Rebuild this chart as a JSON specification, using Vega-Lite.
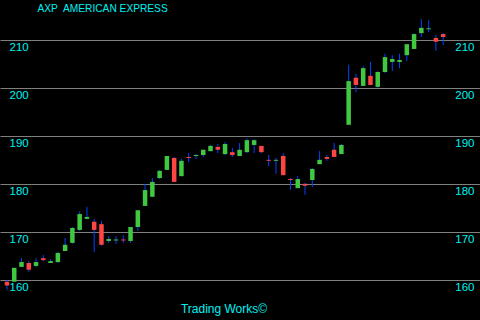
{
  "$schema": "https://vega.github.io/schema/vega-lite/v6.json",
  "width": 480,
  "height": 320,
  "autosize": {"type": "none"},
  "padding": 0,
  "background": "#000000",
  "config": {"view": {"stroke": null}, "font": "Liberation Sans"},
  "data": {
    "values": [
      {"i": 1, "o": 159.7, "h": 160.1, "l": 158.0, "c": 158.9},
      {"i": 2, "o": 159.7, "h": 162.6, "l": 159.7, "c": 162.6},
      {"i": 3, "o": 162.8, "h": 164.6, "l": 162.8, "c": 163.8},
      {"i": 4, "o": 163.6, "h": 164.0, "l": 161.8, "c": 162.2},
      {"i": 5, "o": 163.0, "h": 164.6, "l": 162.8, "c": 163.8},
      {"i": 6, "o": 164.6, "h": 165.3, "l": 164.0, "c": 164.2},
      {"i": 7, "o": 163.6, "h": 164.4, "l": 163.6, "c": 164.0},
      {"i": 8, "o": 163.8, "h": 165.9, "l": 163.6, "c": 165.7},
      {"i": 9, "o": 166.1, "h": 168.8, "l": 166.1, "c": 167.4},
      {"i": 10, "o": 167.8, "h": 171.1, "l": 167.6, "c": 170.9},
      {"i": 11, "o": 170.5, "h": 174.4, "l": 170.3, "c": 173.8},
      {"i": 12, "o": 172.8, "h": 175.3, "l": 172.8, "c": 173.2},
      {"i": 13, "o": 172.2, "h": 172.8, "l": 165.9, "c": 170.5},
      {"i": 14, "o": 171.7, "h": 172.4, "l": 167.2, "c": 167.4},
      {"i": 15, "o": 168.2, "h": 169.2, "l": 167.8, "c": 168.6},
      {"i": 16, "o": 168.3, "h": 169.2, "l": 167.6, "c": 168.5},
      {"i": 17, "o": 168.5, "h": 169.4, "l": 167.8, "c": 168.3},
      {"i": 18, "o": 168.2, "h": 171.1, "l": 167.8, "c": 171.1},
      {"i": 19, "o": 171.1, "h": 174.6, "l": 170.3, "c": 174.6},
      {"i": 20, "o": 175.5, "h": 180.1, "l": 175.5, "c": 178.8},
      {"i": 21, "o": 177.4, "h": 181.3, "l": 177.4, "c": 180.5},
      {"i": 22, "o": 181.3, "h": 183.0, "l": 181.1, "c": 182.8},
      {"i": 23, "o": 183.0, "h": 185.9, "l": 183.0, "c": 185.9},
      {"i": 24, "o": 185.5, "h": 185.7, "l": 180.5, "c": 180.5},
      {"i": 25, "o": 181.7, "h": 185.3, "l": 181.7, "c": 184.9},
      {"i": 26, "o": 185.7, "h": 186.5, "l": 184.6, "c": 185.5},
      {"i": 27, "o": 185.9, "h": 186.3, "l": 185.3, "c": 186.1},
      {"i": 28, "o": 186.1, "h": 187.2, "l": 185.7, "c": 187.2},
      {"i": 29, "o": 186.9, "h": 188.2, "l": 186.9, "c": 188.0},
      {"i": 30, "o": 187.8, "h": 188.4, "l": 186.5, "c": 187.2},
      {"i": 31, "o": 186.3, "h": 188.8, "l": 186.1, "c": 188.4},
      {"i": 32, "o": 186.7, "h": 187.6, "l": 185.7, "c": 186.1},
      {"i": 33, "o": 185.9, "h": 188.6, "l": 185.9, "c": 187.2},
      {"i": 34, "o": 186.7, "h": 189.6, "l": 186.5, "c": 189.2},
      {"i": 35, "o": 188.2, "h": 189.4, "l": 186.5, "c": 189.2},
      {"i": 36, "o": 188.0, "h": 188.0, "l": 186.5, "c": 186.7},
      {"i": 37, "o": 185.1, "h": 186.1, "l": 183.8, "c": 184.9},
      {"i": 38, "o": 184.9, "h": 185.5, "l": 182.2, "c": 185.1},
      {"i": 39, "o": 185.9, "h": 186.5, "l": 181.9, "c": 181.9},
      {"i": 40, "o": 181.1, "h": 181.3, "l": 178.8, "c": 180.9},
      {"i": 41, "o": 179.2, "h": 181.7, "l": 179.2, "c": 181.1},
      {"i": 42, "o": 180.1, "h": 180.3, "l": 177.8, "c": 179.7},
      {"i": 43, "o": 180.9, "h": 183.4, "l": 179.4, "c": 183.2},
      {"i": 44, "o": 184.2, "h": 186.9, "l": 184.2, "c": 185.1},
      {"i": 45, "o": 185.7, "h": 186.1, "l": 184.9, "c": 185.3},
      {"i": 46, "o": 187.2, "h": 188.6, "l": 185.7, "c": 185.7},
      {"i": 47, "o": 186.3, "h": 188.4, "l": 186.3, "c": 188.2},
      {"i": 48, "o": 192.4, "h": 204.9, "l": 192.4, "c": 201.5},
      {"i": 49, "o": 202.2, "h": 203.0, "l": 199.2, "c": 200.7},
      {"i": 50, "o": 200.5, "h": 204.6, "l": 200.5, "c": 204.2},
      {"i": 51, "o": 202.6, "h": 205.5, "l": 200.7, "c": 200.7},
      {"i": 52, "o": 200.3, "h": 203.6, "l": 200.1, "c": 203.4},
      {"i": 53, "o": 203.4, "h": 207.2, "l": 203.2, "c": 206.5},
      {"i": 54, "o": 205.5, "h": 206.9, "l": 203.6, "c": 206.1},
      {"i": 55, "o": 205.5, "h": 207.2, "l": 204.2, "c": 205.9},
      {"i": 56, "o": 206.9, "h": 209.2, "l": 205.7, "c": 209.2},
      {"i": 57, "o": 208.2, "h": 211.5, "l": 208.2, "c": 211.3},
      {"i": 58, "o": 211.5, "h": 214.4, "l": 210.7, "c": 212.6},
      {"i": 59, "o": 212.3, "h": 214.2, "l": 211.7, "c": 212.5},
      {"i": 60, "o": 210.5, "h": 211.1, "l": 207.8, "c": 209.7},
      {"i": 61, "o": 211.3, "h": 211.5, "l": 209.0, "c": 210.7}
    ]
  },
  "encoding": {
    "x": {
      "field": "i",
      "type": "quantitative",
      "scale": {"domain": [0.73, 65.38], "nice": false, "zero": false},
      "axis": {
        "orient": "bottom",
        "labels": false,
        "ticks": false,
        "domain": false,
        "grid": false,
        "title": "Trading Works©",
        "titleColor": "#00f0f0",
        "titleFont": "Liberation Sans",
        "titleFontSize": 12,
        "titleFontWeight": "normal",
        "titleX": 223.5,
        "titleY": -8,
        "titleAlign": "center",
        "titleBaseline": "alphabetic",
        "titleAnchor": null
      }
    }
  },
  "layer": [
    {
      "mark": {"type": "rule", "color": "#0044ff", "strokeWidth": 1},
      "encoding": {
        "y": {
          "field": "l",
          "type": "quantitative",
          "scale": {"domain": [151.73, 218.4], "nice": false, "zero": false},
          "axis": {
            "orient": "left",
            "values": [160, 170, 180, 190, 200, 210, 220],
            "grid": true,
            "gridColor": "#808080",
            "gridWidth": 1,
            "gridOpacity": 1,
            "domain": false,
            "ticks": false,
            "tickSize": 0,
            "labelAlign": "left",
            "labelBaseline": "top",
            "labelPadding": -9,
            "labelOffset": 1,
            "labelColor": "#00f0f0",
            "labelFont": "Liberation Sans",
            "labelFontSize": 11.5,
            "labelOverlap": false,
            "labelFlush": false,
            "labelBound": false,
            "title": "AXP\u00a0 AMERICAN EXPRESS",
            "titleAngle": 0,
            "titleX": 37,
            "titleY": 11,
            "titleAlign": "left",
            "titleBaseline": "alphabetic",
            "titleAnchor": null,
            "titleColor": "#00f0f0",
            "titleFont": "Liberation Sans",
            "titleFontSize": 10.2,
            "titleFontWeight": "normal"
          }
        },
        "y2": {"field": "h"}
      }
    },
    {
      "mark": {"type": "bar", "size": 4.5},
      "encoding": {
        "y": {
          "field": "o",
          "type": "quantitative",
          "axis": {
            "orient": "right",
            "values": [160, 170, 180, 190, 200, 210, 220],
            "grid": false,
            "domain": false,
            "ticks": false,
            "tickSize": 0,
            "labelAlign": "right",
            "labelBaseline": "top",
            "labelPadding": -6,
            "labelOffset": 1,
            "labelColor": "#00f0f0",
            "labelFont": "Liberation Sans",
            "labelFontSize": 11.5,
            "labelOverlap": false,
            "labelFlush": false,
            "labelBound": false,
            "title": null
          }
        },
        "y2": {"field": "c"},
        "color": {
          "condition": {"test": "datum.c >= datum.o", "value": "#40c840"},
          "value": "#ff4444"
        }
      }
    }
  ],
  "resolve": {"axis": {"y": "independent"}}
}
